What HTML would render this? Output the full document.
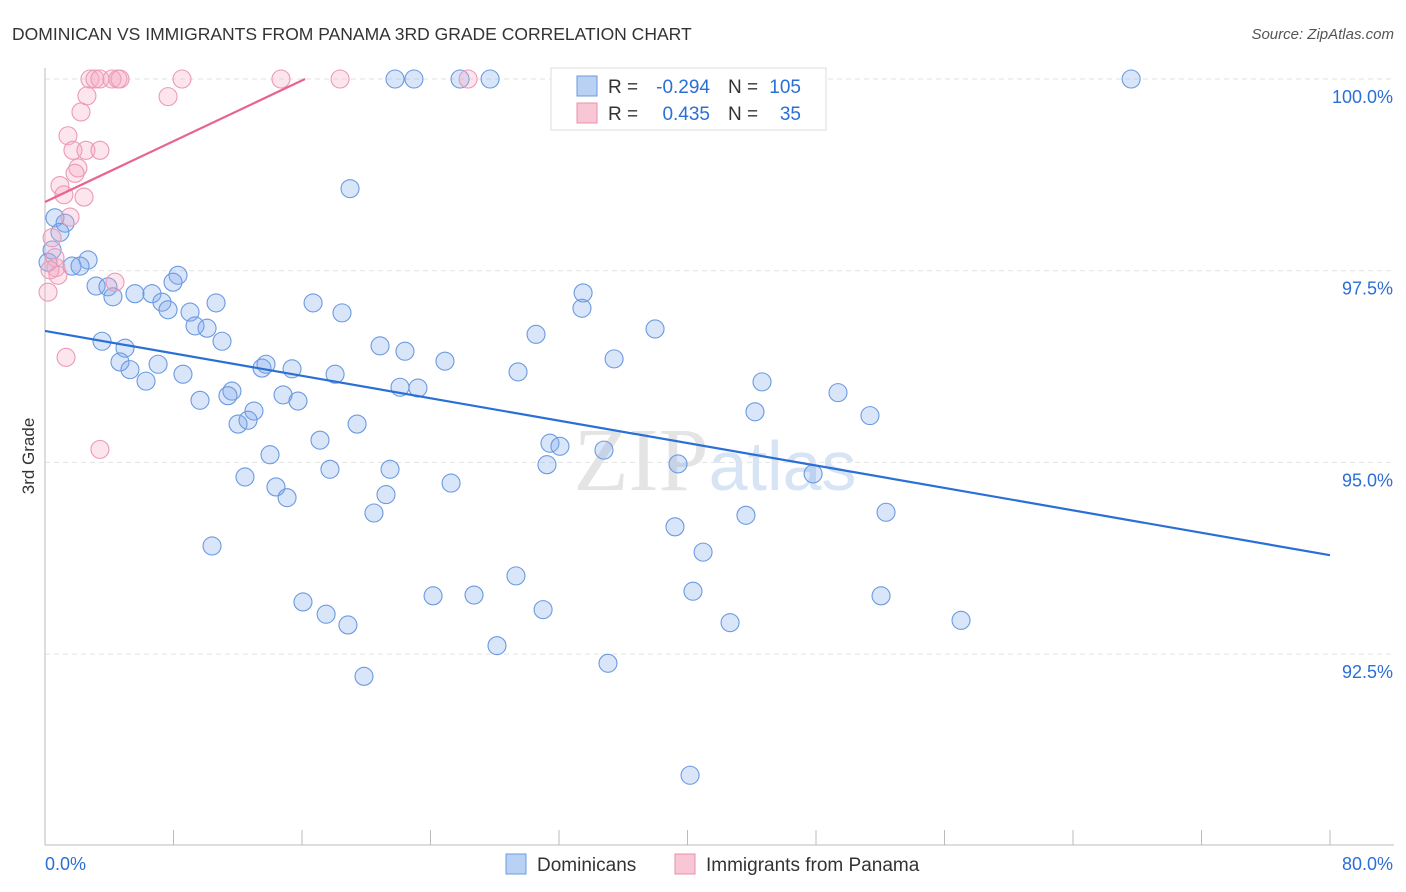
<!DOCTYPE html>
<html><head><meta charset="utf-8"><style>
body{margin:0;background:#fff;font-family:"Liberation Sans",sans-serif;}
svg{display:block}
</style></head><body>
<svg id="chart" width="1406" height="892">
<text x="12" y="40" font-size="17.5" fill="#333">DOMINICAN VS IMMIGRANTS FROM PANAMA 3RD GRADE CORRELATION CHART</text>
<text x="1394" y="39" font-size="15" fill="#555" font-style="italic" text-anchor="end">Source: ZipAtlas.com</text>
<text x="715" y="490" font-size="90" fill="#e4e4e4" text-anchor="middle" font-family="Liberation Serif,serif">ZIP<tspan fill="#d6e4f5" font-family="Liberation Sans,sans-serif" font-size="70">atlas</tspan></text>
<g id="grid"></g>
<g id="axes"></g>
<g id="marks"></g>
<text transform="translate(34,456) rotate(-90)" font-size="17" fill="#333" text-anchor="middle">3rd Grade</text>
<g>
<rect x="551" y="68" width="275" height="62" fill="#fff" stroke="#ddd"/>
<rect x="577" y="76" width="20" height="20" fill="#b9d1f3" stroke="#6b9ae0"/>
<rect x="577" y="103" width="20" height="20" fill="#f8c6d5" stroke="#e890ac"/>
<text x="608" y="93" font-size="19" fill="#333">R =</text>
<text x="710" y="93" font-size="19" fill="#2b6fd6" text-anchor="end">-0.294</text>
<text x="728" y="93" font-size="19" fill="#333">N =</text>
<text x="801" y="93" font-size="19" fill="#2b6fd6" text-anchor="end">105</text>
<text x="608" y="120" font-size="19" fill="#333">R =</text>
<text x="710" y="120" font-size="19" fill="#2b6fd6" text-anchor="end">0.435</text>
<text x="728" y="120" font-size="19" fill="#333">N =</text>
<text x="801" y="120" font-size="19" fill="#2b6fd6" text-anchor="end">35</text>
</g>
<g>
<rect x="506" y="854" width="20" height="20" fill="#b9d1f3" stroke="#6b9ae0"/>
<text x="537" y="871" font-size="19" fill="#333">Dominicans</text>
<rect x="675" y="854" width="20" height="20" fill="#f8c6d5" stroke="#e890ac"/>
<text x="706" y="871" font-size="19" fill="#333">Immigrants from Panama</text>
</g>
</svg>
<script>
const blueX=[0.62,1.25,0.93,2.68,1.68,2.18,3.18,3.92,4.23,5.60,6.66,7.28,7.66,8.28,7.97,9.03,9.34,10.09,10.65,11.02,3.55,4.98,4.67,5.29,6.29,7.04,8.59,9.65,11.64,11.39,13.01,12.02,12.64,13.51,13.76,15.38,14.82,15.75,16.69,18.49,18.06,20.86,22.41,22.10,23.22,24.90,29.45,30.57,33.50,33.43,35.43,37.98,44.64,49.37,44.20,51.36,19.43,17.12,14.01,12.45,14.38,15.07,17.74,21.48,21.23,20.48,25.28,31.44,32.06,31.25,34.80,39.41,47.82,39.22,43.64,52.36,40.97,10.40,16.06,17.50,18.86,19.86,24.16,26.71,29.32,31.01,28.14,35.05,40.34,42.65,52.05,57.03,40.16,18.99,21.79,22.97,25.84,27.71,67.62,32.44,0.19,0.44];
const blueY=[98.19,98.12,98.00,97.64,97.56,97.56,97.30,97.29,97.16,97.20,97.20,97.09,96.99,97.44,97.35,96.96,96.78,96.75,97.08,96.58,96.58,96.49,96.31,96.21,96.06,96.28,96.15,95.81,95.93,95.87,95.67,95.50,95.55,96.23,96.28,96.22,95.88,95.80,97.08,96.95,96.15,96.52,96.45,95.98,95.97,96.32,96.18,96.67,97.21,97.01,96.35,96.74,96.05,95.91,95.66,95.61,95.50,95.29,95.10,94.81,94.68,94.54,94.91,94.91,94.58,94.34,94.73,95.25,95.21,94.97,95.16,94.98,94.85,94.16,94.31,94.35,93.83,93.91,93.18,93.02,92.88,92.21,93.26,93.27,93.52,93.08,92.61,92.38,93.32,92.91,93.26,92.94,90.92,98.57,100,100,100,100,100,100,97.61,97.77];
const pinkX=[2.80,3.11,3.42,4.17,4.54,4.67,8.53,14.69,18.37,26.34,2.61,7.66,2.24,1.43,1.74,2.55,3.42,2.05,1.87,0.93,1.18,2.43,1.56,0.44,0.62,0.68,0.81,0.19,4.36,1.31,3.42,0.31];
const pinkY=[100,100,100,100,100,100,100,100,100,100,99.78,99.77,99.57,99.26,99.07,99.07,99.07,98.84,98.77,98.61,98.49,98.46,98.20,97.93,97.67,97.54,97.44,97.22,97.35,96.37,95.17,97.51];
const blueTrend=[96.714,93.79];
const pinkTrend=[98.396,100];
const yTicks=[100,97.5,95,92.5];
const yTickLabels=["100.0%","97.5%","95.0%","92.5%"];
const xTickLabels=["0.0%","80.0%"];
const X=v=>45+v/80*1285;
const Y=v=>79+(100-v)/2.5*191.7;
const NS="http://www.w3.org/2000/svg";
function mk(tag,attrs,parent){const e=document.createElementNS(NS,tag);for(const k in attrs)e.setAttribute(k,attrs[k]);parent.appendChild(e);return e;}
const grid=document.getElementById('grid'),axes=document.getElementById('axes'),marks=document.getElementById('marks');
yTicks.forEach((t,i)=>{
 const l=mk('line',{x1:45,x2:1394,y1:Y(t),y2:Y(t),stroke:'#e2e2e2','stroke-dasharray':'5,4'},grid);
 
 
 const tx=mk('text',{x:1393,y:Y(t)+24,'font-size':18,fill:'#2b6fd6','text-anchor':'end'},axes);
 tx.textContent=yTickLabels[i];
 
 
});
const ax=mk('line',{x1:45,x2:1394,y1:845,y2:845,stroke:'#bbb'},axes);


const ay=mk('line',{x1:45,x2:45,y1:68,y2:845,stroke:'#bbb'},axes);


for(let i=0;i<=10;i++){
 const t=mk('line',{x1:X(i*8),x2:X(i*8),y1:830,y2:845,stroke:'#bbb'},axes);
 
 
}
const xl0=mk('text',{x:45,y:870,'font-size':18,fill:'#2b6fd6'},axes);xl0.textContent=xTickLabels[0];


const xl1=mk('text',{x:1393,y:870,'font-size':18,fill:'#2b6fd6','text-anchor':'end'},axes);xl1.textContent=xTickLabels[1];


blueX.forEach((x,i)=>{
 const c=mk('circle',{cx:X(x),cy:Y(blueY[i]),r:9,fill:'rgba(130,170,235,0.3)',stroke:'#6b9ae0','stroke-width':1.1},marks);
 
 
});
pinkX.forEach((x,i)=>{
 const c=mk('circle',{cx:X(x),cy:Y(pinkY[i]),r:9,fill:'rgba(245,170,195,0.3)',stroke:'#ec9ab5','stroke-width':1.1},marks);
 
 
});
const bl=mk('line',{x1:X(0),y1:Y(blueTrend[0]),x2:X(80),y2:Y(blueTrend[1]),stroke:'#2a6fd6','stroke-width':2.2},marks);


const xEnd=16.19;
const pl=mk('line',{x1:X(0),y1:Y(pinkTrend[0]),x2:X(xEnd),y2:Y(pinkTrend[1]),stroke:'#e8648f','stroke-width':2.2},marks);


</script>
</body></html>
